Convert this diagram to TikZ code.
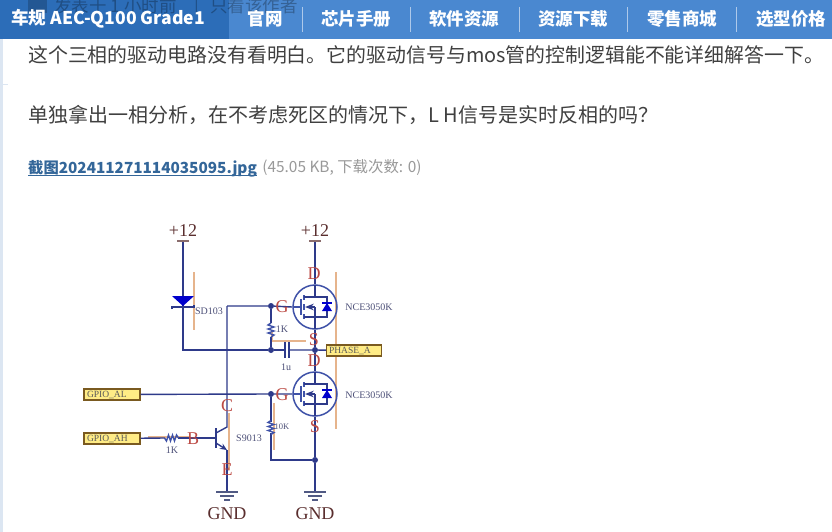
\documentclass[tikz,border=0pt]{standalone}
\usepackage{fontspec}
\setmainfont{Liberation Serif}
\newfontfamily\cjk{Noto Sans CJK SC}
\usetikzlibrary{arrows.meta,positioning}
\definecolor{barL}{HTML}{2C6DB8}
\definecolor{barR}{HTML}{4A88D0}
\definecolor{wirec}{HTML}{2E3A8A}
\definecolor{bluec}{HTML}{3F52A8}
\definecolor{redc}{HTML}{BC4A44}
\definecolor{orangec}{HTML}{E6B48C}
\definecolor{partc}{HTML}{4D5078}
\definecolor{pwrc}{HTML}{5A2E2E}
\definecolor{linkc}{HTML}{336699}
\definecolor{edgec}{HTML}{DCE6F2}
\definecolor{portc}{HTML}{FFEC86}
\definecolor{portb}{HTML}{7A5A20}
\tikzset{%
    >=Stealth,
    wire/.style={draw=wirec,line width=1.4pt},
    guide/.style={draw=orangec,line width=1.4pt},
    dot/.style={circle,fill=wirec,inner sep=0pt,minimum size=6pt},
    pin/.style={text=redc,font=\fontsize{18}{18}\selectfont,inner sep=0pt},
    part/.style={text=partc,font=\fontsize{10}{10}\selectfont,inner sep=0pt},
    pwr/.style={text=pwrc,font=\fontsize{18}{18}\selectfont,inner sep=0pt},
    port/.style={draw=portb,line width=1.3pt,fill=portc,font=\fontsize{9.5}{9.5}\selectfont,
        text=black!65,inner sep=0pt,minimum height=11pt,align=left},
    navtxt/.style={text=white,font=\cjk\bfseries\fontsize{17.5}{17.5}\selectfont,inner sep=0pt},
    ghosttxt/.style={anchor=west,inner sep=0pt,text=black,text opacity=.28,font=\cjk\fontsize{17.5}{17.5}\selectfont},
    bodytxt/.style={text=black!75,font=\cjk\fontsize{19.9}{19.9}\selectfont,inner sep=0pt,anchor=west},
    mos/.style={circle,draw=bluec,line width=1.5pt,minimum size=44pt,inner sep=0pt},
    pics/mosin/.style={code={
        \draw[bluec,line width=1.2pt] (-14,-8) -- (-14,8);
        \draw[bluec,line width=1.8pt] (-11,-12) -- (-11,-7) (-11,-3) -- (-11,3) (-11,7) -- (-11,12);
        \draw[bluec,line width=1.2pt] (-22,0) -- (-14,0);
        \draw[wirec,line width=1.3pt] (-11,-10) -- (0,-10) (-11,10) -- (0,10) (0,0) -- (0,22) (0,-22) -- (0,-10);
        \draw[wirec,line width=1.3pt,<-] (-10,0) -- (0,0);
        \draw[wirec,line width=1.2pt] (0,-10) -- (12,-10) -- (12,10) -- (0,10);
        \fill[blue!80!black] (12,-4) -- (7,4) -- (17,4) -- cycle;
        \draw[blue!80!black,line width=1.2pt] (7,-4) -- (17,-4);
    }},
    pics/gnd/.style={code={
        \draw[bluec!60!black!80,line width=1.2pt] (-11,0) -- (11,0) (-7,4) -- (7,4) (-3,8) -- (3,8);
    }},
    pics/zig/.style={code={
        \draw[bluec,line width=1.4pt] (0,-7) -- (-3,-5) -- (3,-3) -- (-3,-1) -- (3,1) -- (-3,3) -- (3,5) -- (0,7);
    }}
}
\begin{document}
\begin{tikzpicture}[x=1pt,y=-1pt]
\useasboundingbox (0,0) rectangle (832,532);
\clip (0,0) rectangle (832,532);
\fill[white] (0,0) rectangle (832,532);
\fill[edgec] (0,39) rectangle (2.5,532);
\draw[edgec,line width=.6pt] (0,84) -- (8,84);
%%%%% top bar
\fill[barR] (0,0) rectangle (832,39);
\fill[barL] (0,0) rectangle (229,39);
\fill[black,opacity=.2] (28,0) rectangle (47,13);
\node[ghosttxt] (ghost1) at (54,6) {发表于 1 小时前};
\node[ghosttxt] (ghost2) at (194,6) {|};
\node[ghosttxt] (ghost3) at (210,6) {只看该作者};
\node[navtxt,anchor=west,font=\cjk\bfseries\fontsize{17.6}{17.6}\selectfont] (brand) at (11,19) {车规 AEC-Q100 Grade1};
\node[navtxt] (nav1) at (265,19) {官网};
\node[navtxt] (nav2) at (356,19) {芯片手册};
\node[navtxt] (nav3) at (464,19) {软件资源};
\node[navtxt] (nav4) at (573,19) {资源下载};
\node[navtxt] (nav5) at (682,19) {零售商城};
\node[navtxt] (nav6) at (791,19) {选型价格};
\foreach \xs in {302,410,519,627,736}
    \draw[white!55!barR,line width=.6pt] (\xs,7) -- (\xs,32);
%%%%% text
\node[bodytxt] (line1) at (28,55) {这个三相的驱动电路没有看明白。它的驱动信号与mos管的控制逻辑能不能详细解答一下。};
\node[bodytxt,font=\cjk\fontsize{20}{20}\selectfont] (line2) at (28,115) {单独拿出一相分析，在不考虑死区的情况下，L H信号是实时反相的吗？};
\node[anchor=west,inner sep=0pt,text=linkc,font=\cjk\bfseries\fontsize{15.3}{15.3}\selectfont] (file) at (28,168) {\underbar{截图202411271114035095.jpg}};
\node[right=5pt of file,inner sep=0pt,text=black!40,font=\cjk\fontsize{15.4}{15.4}\selectfont] (size) {(45.05 KB, 下载次数: 0)};
%%%%% orange guides
\draw[guide] (194,272) -- (194,330);
\draw[guide] (336,272) -- (336,429);
\draw[guide] (272,330) -- (272,341) -- (306,341);
\draw[guide] (229,413) -- (229,470);
\draw[guide] (148,437) -- (190,437);
\draw[guide] (274,403) -- (274,450);
%%%%% parts
\node[mos] (q1) at (315,307) {};
\node[mos] (q2) at (315,394) {};
\pic at (315,307) {mosin};
\pic at (315,394) {mosin};
\node[dot] (g1) at (271,306) {};
\node[dot] (n1) at (271,350) {};
\node[dot] (pa) at (315,350) {};
\node[dot] (g2) at (271,394) {};
\node[dot] (n2) at (315,460) {};
\coordinate (vl) at (183,241);
\coordinate (vr) at (315,241);
\coordinate (gl) at (227,492);
\coordinate (gr) at (315,492);
\coordinate (cc) at (227,427);
\coordinate (ee) at (227,450);
\coordinate (tl) at (227,306);
\coordinate (bl) at (183,350);
\node[port,minimum width=56pt,text width=50pt] (al) at (112,394.5) {GPIO\_AL};
\node[port,minimum width=56pt,text width=50pt] (ah) at (112,438.5) {GPIO\_AH};
\node[port,minimum width=55pt,text width=50pt] (ph) at (354,350.5) {PHASE\_A};
%%%%% wires
\draw[wire] (vr) -- (q1.north);
\draw[wire] (vl) -- (bl) -- (n1);
\draw[wire] (n1) -- (285,350);
\draw[wire] (289,350) -- (pa) -- (ph);
\draw[wire] (q1.south) -- (pa) -- (q2.north);
\draw[wire] (q2.south) -- (n2) -- (gr);
\draw[wire] (tl) -- (g1) -- (q1.west);
\draw[wire] (tl) -- (cc) -- (216,433);
\draw[wire] (al) -- (g2) -- (q2.west);
\draw[wire] (g1) -- (271,323);
\draw[wire] (271,337) -- (n1);
\draw[wire] (g2) -- (271,422);
\draw[wire] (271,433) -- (271,460) -- (n2);
\draw[wire] (ah) -- (165,438);
\draw[wire] (178,438) -- (216,438);
\draw[wire,-{Stealth[length=7pt,width=6pt]}] (216,443) -- (ee);
\draw[wire] (ee) -- (gl);
\draw[wire,line width=1.8pt] (216,428) -- (216,448);
%%%%% diode and resistors
\fill[blue!80!black] (172,296) -- (194,296) -- (183,306) -- cycle;
\draw[wirec,line width=1.4pt] (172,309) -- (172,307) -- (194,307) -- (194,305);
\pic at (271,330) {zig};
\pic at (271,427.5) {zig};
\pic[rotate=90] at (171.5,438) {zig};
\draw[wirec,line width=1.4pt] (285,342) -- (285,358) (289,342) -- (289,358);
%%%%% power
\draw[pwrc!70,line width=1.4pt] (177,241) -- (189,241);
\draw[pwrc!70,line width=1.4pt] (309,241) -- (321,241);
\pic at (gl) {gnd};
\pic at (gr) {gnd};
\node[pwr] (p12l) at (183,231) {+12};
\node[pwr] (p12r) at (315,231) {+12};
\node[pwr] (gndl) at (227,514) {GND};
\node[pwr] (gndr) at (315,514) {GND};
%%%%% labels
\node[pin] (ld1) at (314,274) {D};
\node[pin] (lg1) at (282,307) {G};
\node[pin] (ls1) at (314,340) {S};
\node[pin] (ld2) at (314,361) {D};
\node[pin] (lg2) at (282,395) {G};
\node[pin] (ls2) at (315,427) {S};
\node[pin] (lc) at (227,406) {C};
\node[pin] (lb) at (193,439) {B};
\node[pin] (le) at (227,470) {E};
\node[part] (sd) at (209,311) {SD103};
\node[part] (r1) at (282,329) {1K};
\node[part] (c1) at (286,367) {1u};
\node[part,font=\fontsize{8.5}{8.5}\selectfont] (r2) at (282,427) {10K};
\node[part] (r3) at (172,450) {1K};
\node[part] (t1) at (249,438) {S9013};
\node[part] (m1) at (369,307) {NCE3050K};
\node[part] (m2) at (369,395) {NCE3050K};
\end{tikzpicture}
\end{document}
